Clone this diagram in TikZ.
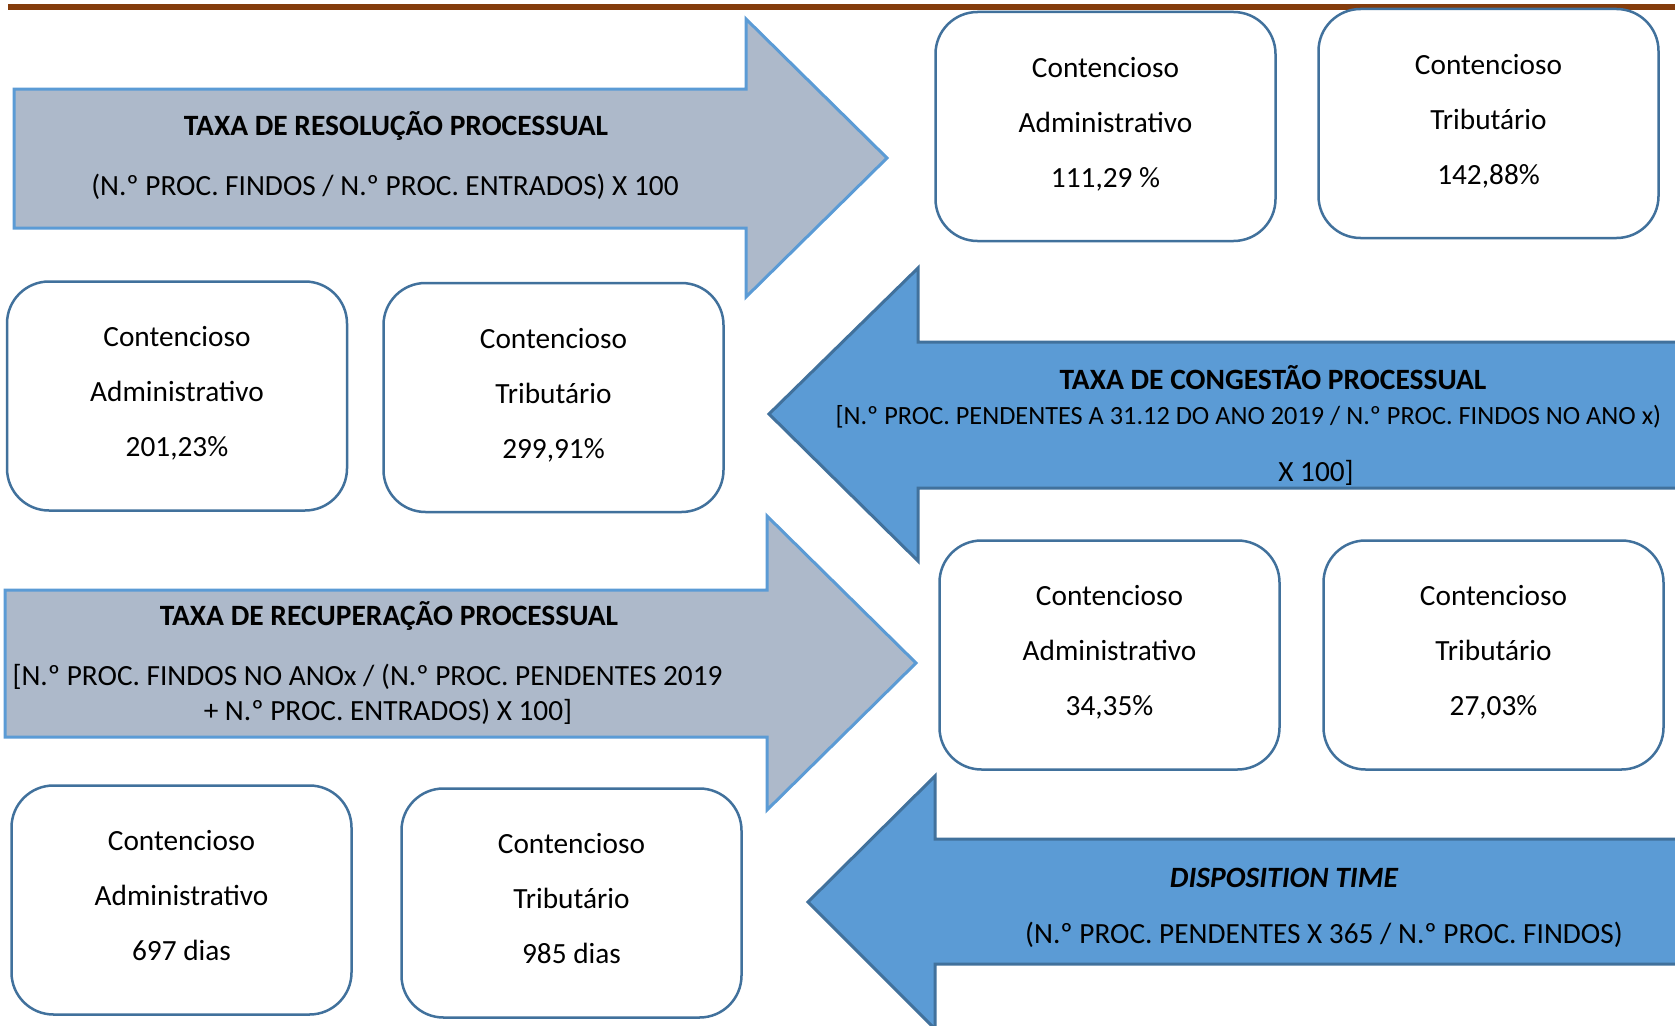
\documentclass[tikz,border=0pt]{standalone}
\usepackage{fontspec}
\setmainfont{Carlito}
\usepackage{xcolor}
\usetikzlibrary{positioning}
\definecolor{brownline}{HTML}{843C0C}
\definecolor{grayfill}{HTML}{ADB9CA}
\definecolor{lightblue}{HTML}{5B9BD5}
\definecolor{darkblue}{HTML}{41719C}

\begin{document}
\begin{tikzpicture}[x=1pt, y=-1pt,
  grayarrow/.style={fill=grayfill, draw=lightblue, line width=3pt},
  bluearrow/.style={fill=lightblue, draw=darkblue, line width=3pt},
  valbox/.style={rectangle, rounded corners=42pt, draw=darkblue, line width=2.5pt, fill=white,
    minimum width=340pt, minimum height=229pt, align=center, text depth=9pt,
    font=\fontsize{29.3}{55}\selectfont},
  titletext/.style={font=\fontsize{29.5}{34}\selectfont\bfseries},
  formtext/.style={font=\fontsize{29.3}{36}\selectfont}]
\useasboundingbox (0,0) rectangle (1675,1025);
\clip (0,0) rectangle (1675,1025);
\fill [white] (0,0) rectangle (1675,1025);
\draw [brownline, line width=6pt] (8,7) -- (1675,7);

% arrows
\draw [grayarrow] (14,89) -- (746,89) -- (746,19) -- (887,158) -- (746,297) -- (746,228) -- (14,228) -- cycle;
\draw [bluearrow] (1690,342) -- (918,342) -- (918,268) -- (769,414) -- (918,561) -- (918,488) -- (1690,488) -- cycle;
\draw [grayarrow] (5,590) -- (767,590) -- (767,516) -- (916,663) -- (767,810) -- (767,737) -- (5,737) -- cycle;
\draw [bluearrow] (1690,839) -- (935,839) -- (935,776) -- (808,902) -- (935,1029) -- (935,964) -- (1690,964) -- cycle;

% arrow texts
\node [titletext] (resol) at (396,126) {TAXA DE RESOLUÇÃO PROCESSUAL};
\node [formtext] (resolf) at (385,187) {(N.º PROC. FINDOS / N.º PROC. ENTRADOS) X 100};
\node [titletext] (cong) at (1273,378) {TAXA DE CONGESTÃO PROCESSUAL};
\node [formtext, font=\fontsize{26.3}{36}\selectfont, anchor=west] (congf) at (832,417) {[N.º PROC. PENDENTES A 31.12 DO ANO 2019 / N.º PROC. FINDOS NO ANO x)};
\node [formtext] (congx) at (1316,473) {X 100]};
\node [titletext] (recup) at (389,616) {TAXA DE RECUPERAÇÃO PROCESSUAL};
\node [formtext, anchor=west] (recupf) at (9,677) {[N.º PROC. FINDOS NO ANOx / (N.º PROC. PENDENTES 2019};
\node [formtext] (recupx) at (388,712) {+ N.º PROC. ENTRADOS) X 100]};
\node [titletext, font=\fontsize{29.5}{34}\selectfont\bfseries\itshape] (disp) at (1284,878) {DISPOSITION TIME};
\node [formtext] (dispf) at (1324,935) {(N.º PROC. PENDENTES X 365 / N.º PROC. FINDOS)};

% value boxes
\node [valbox] (resadm) at (1105.5,126.5) {Contencioso\\Administrativo\\111,29 \%};
\node [valbox] (restrib) at (1488.5,123.5) {Contencioso\\Tributário\\142,88\%};
\node [valbox] (congadm) at (177,396) {Contencioso\\Administrativo\\201,23\%};
\node [valbox] (congtrib) at (553.5,397.5) {Contencioso\\Tributário\\299,91\%};
\node [valbox] (recadm) at (1109.5,655) {Contencioso\\Administrativo\\34,35\%};
\node [valbox] (rectrib) at (1493.5,655) {Contencioso\\Tributário\\27,03\%};
\node [valbox] (dispadm) at (181.5,900) {Contencioso\\Administrativo\\697 dias};
\node [valbox] (disptrib) at (571.5,903) {Contencioso\\Tributário\\985 dias};
\end{tikzpicture}
\end{document}
